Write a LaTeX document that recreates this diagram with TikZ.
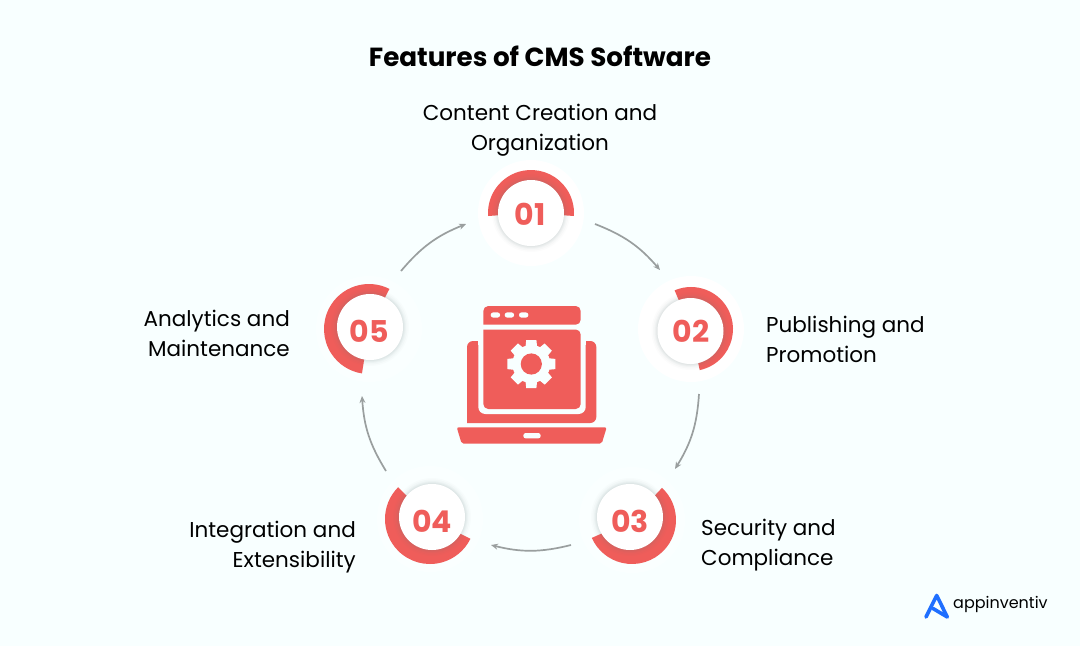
\documentclass[tikz,border=0pt]{standalone}
\usepackage{fontspec}
\setmainfont{Poppins}
\usetikzlibrary{arrows.meta}
\definecolor{bgc}{HTML}{F8FFFF}
\definecolor{redc}{HTML}{EF5D5A}
\definecolor{grayc}{HTML}{9A9F9F}
\definecolor{bluec}{HTML}{1F6FFF}
\definecolor{shadowc}{HTML}{6F8080}
\tikzset{
  x=1pt,y=-1pt,
  lab/.style={font=\fontsize{21.5}{30}\selectfont,text=black,inner sep=0pt,align=center},
  disc/.style={circle,fill=white,minimum size=66pt,inner sep=0pt},
  num/.style={inner sep=0pt,text=redc,font=\fontsize{30}{30}\selectfont\bfseries},
  conn/.style={draw=grayc,line width=1.7pt,-{Stealth[length=7pt,width=6pt]}},
}
% name, cx, cy, start, end (angles measured with y upward), label, inner centre, halo opacity, radius
\newcommand{\badge}[9]{%
  \fill[white,opacity=#8] (#2,#3) circle[radius=53];
  \fill[redc] (#2,#3) -- ++(-#4:#9) arc[start angle=-#4,end angle=-#5,radius=#9] -- cycle;
  \foreach \r/\o in {39/.02,37.5/.03,36/.04,35/.05,34/.06}{\fill[shadowc,opacity=\o] (#7) circle[radius=\r];}
  \node[disc] (#1) at (#7) {};
  \node[num] (#1t) at (#1c) {#6};
}
\begin{document}
\begin{tikzpicture}
\useasboundingbox (0,0) rectangle (1080,646);
\fill[bgc] (0,0) rectangle (1080,646);
\node[font=\fontsize{26.2}{30}\selectfont\bfseries,inner sep=0pt] (title) at (540,56) {Features of CMS Software};
\coordinate (i1) at (531,213);
\coordinate (i2) at (690.5,331);
\coordinate (i3) at (630,517);
\coordinate (i4) at (432,517);
\coordinate (i5) at (370,327);
\coordinate (b1c) at (530,214);
\coordinate (b2c) at (691,331.5);
\coordinate (b3c) at (630,521);
\coordinate (b4c) at (432,521);
\coordinate (b5c) at (369.5,331);
\badge{b1}{531}{213}{184}{-4}{01}{i1}{1}{43}
\badge{b2}{691}{329}{113}{-78}{02}{i2}{1}{42}
\badge{b3}{632}{520}{47}{-156}{03}{i3}{.4}{44}
\badge{b4}{430}{519}{135}{334}{04}{i4}{.4}{45}
\badge{b5}{369}{329}{63}{261}{05}{i5}{.4}{45}
\node[lab] (l1) at (540,130) {Content Creation and\\Organization};
\node[lab,align=left,anchor=west] (l2) at (766,339) {Publishing and\\Promotion};
\node[lab,align=left,anchor=west] (l3) at (701,545) {Security and\\Compliance};
\node[lab,align=right,anchor=east] (l4) at (356,547.5) {Integration and\\Extensibility};
\node[lab,align=right,anchor=east] (l5) at (290,333) {Analytics and\\Maintenance};
\coordinate (a1s) at (595,224); \coordinate (a1e) at (660,270);
\coordinate (a2s) at (699,394); \coordinate (a2e) at (675,469);
\coordinate (a3s) at (571,545); \coordinate (a3e) at (491,545);
\coordinate (a4s) at (386,471); \coordinate (a4e) at (362,396);
\coordinate (a5s) at (401,271); \coordinate (a5e) at (466,224);
\draw[conn] (a1s) to[bend left=14] (a1e);
\draw[conn] (a2s) to[bend left=14] (a2e);
\draw[conn] (a3s) to[bend left=14] (a3e);
\draw[conn] (a4s) to[bend left=14] (a4e);
\draw[conn] (a5s) to[bend left=14] (a5e);
% laptop
\fill[redc,rounded corners=6pt] (467,423) -- (467,341) -- (596.3,341) -- (596.3,423) [sharp corners] -- cycle;
\fill[bgc,rounded corners=7pt] (478.3,330) -- (585.7,330) -- (585.7,414) -- (478.3,414) -- cycle;
\fill[bgc] (478.3,325) rectangle (585.7,345);
\fill[redc,rounded corners=5pt] (483.3,329.5) -- (483.3,409) -- (580.7,409) -- (580.7,329.5) [sharp corners] -- cycle;
\fill[redc,rounded corners=5pt] (483.3,324.7) -- (483.3,306) -- (580.7,306) -- (580.7,324.7) [sharp corners] -- cycle;
\foreach \x in {490.7,504.7,519}{\fill[bgc,rounded corners=2.5pt] (\x,312.4) rectangle ++(9.4,5.2);}
\fill[redc,rounded corners=2pt] (456.7,427.3) -- (606.7,427.3) -- (601.7,443.7) -- (461.7,443.7) -- cycle;
\fill[bgc,rounded corners=2.5pt] (523.3,433) rectangle (540.7,438.4);
% gear
\fill[bgc] (531.3,364) circle[radius=19];
\foreach \a in {0,45,...,315}{\fill[bgc,rotate around={\a:(531.3,364)}] (526.2,340) -- (536.4,340) -- (537.6,352) -- (525,352) -- cycle;}
\fill[redc] (531.3,364) circle[radius=10.6];
% logo
\draw[bluec,line width=3.6pt,line join=round,line cap=round] (926,617) -- (936.7,595.5) -- (947.3,617) -- (933,608.5);
\node[font=\fontsize{16}{20}\selectfont,text=black,inner sep=0pt,anchor=west] (logo) at (953,604) {appinventiv};
\end{tikzpicture}
\end{document}
